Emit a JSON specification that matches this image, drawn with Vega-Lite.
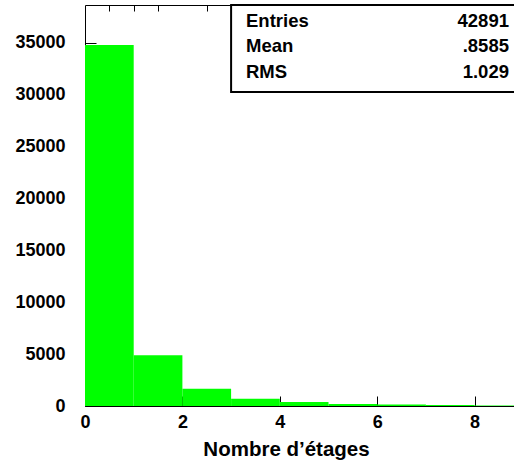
{
  "$schema": "https://vega.github.io/schema/vega-lite/v6.json",
  "width": 487,
  "height": 401,
  "autosize": {"type": "none"},
  "padding": {"left": 85, "top": 5, "right": 0, "bottom": 57},
  "background": "white",
  "config": {
    "view": {"stroke": "black", "strokeWidth": 1},
    "font": "Liberation Sans",
    "axis": {
      "grid": false,
      "ticks": true,
      "zindex": 2,
      "domain": false,
      "tickColor": "#000000",
      "tickOpacity": 1,
      "tickWidth": 1,
      "labelColor": "black",
      "titleColor": "black",
      "labelFont": "Liberation Sans",
      "titleFont": "Liberation Sans",
      "labelFontWeight": "bold",
      "titleFontWeight": "bold",
      "labelOverlap": false,
      "labelFlush": false
    }
  },
  "datasets": {
    "bins": [
      {"bin_start": 0, "bin_end": 1, "count": 34770},
      {"bin_start": 1, "bin_end": 2, "count": 4900},
      {"bin_start": 2, "bin_end": 3, "count": 1650},
      {"bin_start": 3, "bin_end": 4, "count": 700},
      {"bin_start": 4, "bin_end": 5, "count": 380},
      {"bin_start": 5, "bin_end": 6, "count": 200},
      {"bin_start": 6, "bin_end": 7, "count": 140},
      {"bin_start": 7, "bin_end": 8, "count": 90},
      {"bin_start": 8, "bin_end": 9, "count": 60}
    ],
    "stats": [
      {"stat": "Entries", "value": "42891"},
      {"stat": "Mean", "value": ".8585"},
      {"stat": "RMS", "value": "1.029"}
    ]
  },
  "resolve": {"axis": {"x": "independent", "y": "independent"}},
  "layer": [
    {
      "data": {"name": "bins"},
      "mark": {"type": "bar", "color": "#00ff00", "strokeWidth": 0, "orient": "vertical"},
      "encoding": {
        "x": {
          "field": "bin_start",
          "type": "quantitative",
          "scale": {"domain": [0, 10], "nice": false, "zero": false, "padding": 0},
          "axis": {
            "values": [0, 2, 4, 6, 8],
            "format": "d",
            "ticks": true,
            "offset": -10,
            "tickSize": 10,
            "labelPadding": 7,
            "labelFontSize": 18,
            "title": "Nombre d’étages",
            "titleFontSize": 20.5,
            "titleX": 201,
            "titleAlign": "center",
            "titlePadding": 8
          }
        },
        "x2": {"field": "bin_end"},
        "y": {
          "field": "count",
          "type": "quantitative",
          "scale": {"domain": [0, 38630], "nice": false},
          "axis": {
            "values": [0, 5000, 10000, 15000, 20000, 25000, 30000, 35000],
            "format": "d",
            "ticks": true,
            "offset": -11,
            "tickSize": 11,
            "labelPadding": 20,
            "labelFontSize": 18,
            "title": null
          }
        },
        "y2": {"datum": 0}
      }
    },
    {
      "data": {"values": [{}]},
      "mark": {"type": "rect", "fill": "white", "stroke": "black", "strokeWidth": 2},
      "encoding": {
        "x": {
          "datum": 3.0,
          "type": "quantitative",
          "axis": {
            "values": [0.5, 1, 1.5, 2.5, 3, 3.5, 4.5, 5, 5.5, 6.5, 7, 7.5, 8.5, 9, 9.5],
            "ticks": true,
            "offset": -6,
            "tickSize": 6,
            "labels": false,
            "title": null
          }
        },
        "x2": {"datum": 10},
        "y": {
          "datum": 30250,
          "type": "quantitative",
          "axis": {
            "values": [1000, 2000, 3000, 4000, 6000, 7000, 8000, 9000, 11000, 12000, 13000, 14000, 16000, 17000, 18000, 19000, 21000, 22000, 23000, 24000, 26000, 27000, 28000, 29000, 31000, 32000, 33000, 34000, 36000, 37000, 38000],
            "ticks": true,
            "offset": -5,
            "tickSize": 5,
            "labels": false,
            "title": null
          }
        },
        "y2": {"datum": 38630}
      }
    },
    {
      "data": {"name": "stats"},
      "transform": [{"filter": "datum.stat === 'Entries'"}],
      "encoding": {"y": {"datum": 37120, "type": "quantitative", "axis": null}},
      "layer": [
        {
          "mark": {"type": "text", "align": "left", "baseline": "middle", "font": "Liberation Sans", "fontWeight": "bold", "fontSize": 18.5, "color": "black"},
          "encoding": {"x": {"datum": 3.306, "type": "quantitative", "axis": null}, "text": {"field": "stat"}}
        },
        {
          "mark": {"type": "text", "align": "right", "baseline": "middle", "font": "Liberation Sans", "fontWeight": "bold", "fontSize": 18.5, "color": "black"},
          "encoding": {"x": {"datum": 8.706, "type": "quantitative", "axis": null}, "text": {"field": "value"}}
        }
      ]
    },
    {
      "data": {"name": "stats"},
      "transform": [{"filter": "datum.stat === 'Mean'"}],
      "encoding": {"y": {"datum": 34682, "type": "quantitative", "axis": null}},
      "layer": [
        {
          "mark": {"type": "text", "align": "left", "baseline": "middle", "font": "Liberation Sans", "fontWeight": "bold", "fontSize": 18.5, "color": "black"},
          "encoding": {"x": {"datum": 3.306, "type": "quantitative", "axis": null}, "text": {"field": "stat"}}
        },
        {
          "mark": {"type": "text", "align": "right", "baseline": "middle", "font": "Liberation Sans", "fontWeight": "bold", "fontSize": 18.5, "color": "black"},
          "encoding": {"x": {"datum": 8.706, "type": "quantitative", "axis": null}, "text": {"field": "value"}}
        }
      ]
    },
    {
      "data": {"name": "stats"},
      "transform": [{"filter": "datum.stat === 'RMS'"}],
      "encoding": {"y": {"datum": 32177, "type": "quantitative", "axis": null}},
      "layer": [
        {
          "mark": {"type": "text", "align": "left", "baseline": "middle", "font": "Liberation Sans", "fontWeight": "bold", "fontSize": 18.5, "color": "black"},
          "encoding": {"x": {"datum": 3.306, "type": "quantitative", "axis": null}, "text": {"field": "stat"}}
        },
        {
          "mark": {"type": "text", "align": "right", "baseline": "middle", "font": "Liberation Sans", "fontWeight": "bold", "fontSize": 18.5, "color": "black"},
          "encoding": {"x": {"datum": 8.706, "type": "quantitative", "axis": null}, "text": {"field": "value"}}
        }
      ]
    }
  ]
}
